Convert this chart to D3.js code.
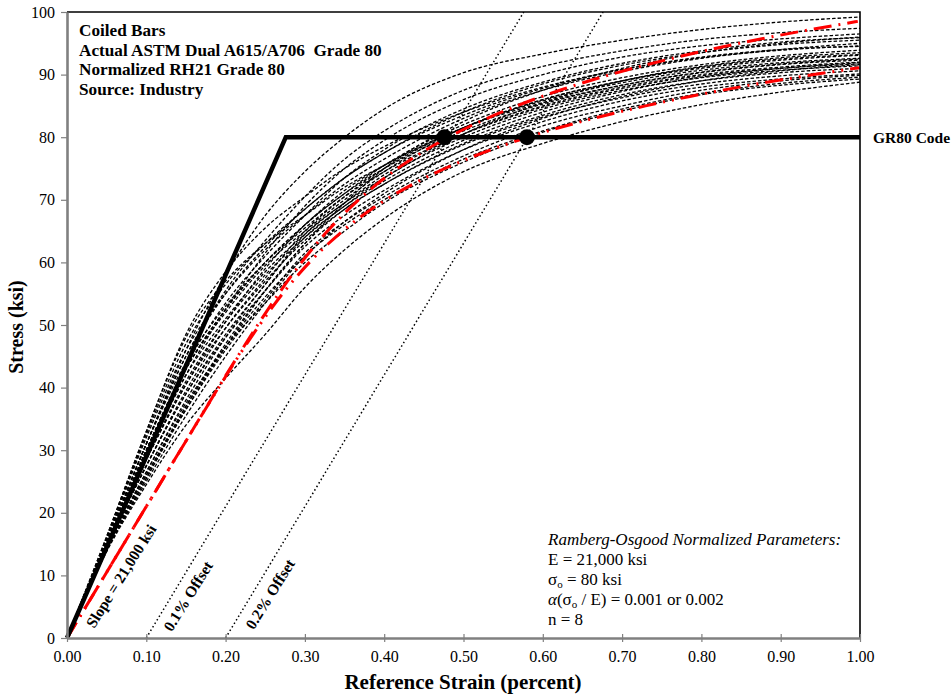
<!DOCTYPE html>
<html><head><meta charset="utf-8">
<script src="https://cdn.jsdelivr.net/npm/d3@7"></script>
<style>
body{margin:0;background:#fff}
svg{display:block}
svg text{font-family:"Liberation Serif","Times New Roman","DejaVu Serif",serif !important;fill:#000}
</style>
</head><body>
<svg id="chart" width="952" height="696"></svg>
<script>
// ---- data ----
const strainGrid = [0, 0.05, 0.10, 0.15, 0.20, 0.25, 0.30, 0.35, 0.40, 0.50, 0.60, 0.70, 0.80, 0.90, 1.00];
const testCurves = [
  [0, 15.5, 31.0, 46.0, 58.0, 67.5, 74.5, 80.0, 84.5, 90.3, 93.3, 95.5, 97.2, 98.4, 99.2],
  [0, 15.3, 31.0, 45.0, 55.5, 63.5, 70.5, 76.5, 81.0, 87.5, 91.3, 93.8, 95.6, 96.7, 97.4],
  [0, 14.8, 29.0, 42.0, 52.5, 61.5, 69.0, 75.0, 79.5, 86.0, 90.0, 92.8, 94.6, 95.7, 96.5],
  [0, 15.0, 30.0, 43.5, 53.5, 61.0, 67.5, 73.5, 78.0, 84.5, 88.8, 91.8, 93.8, 95.2, 95.9],
  [0, 15.8, 32.0, 46.0, 55.0, 62.0, 67.5, 72.5, 76.5, 83.0, 87.5, 90.5, 92.6, 94.0, 95.0],
  [0, 14.7, 28.5, 40.5, 50.5, 59.0, 66.0, 71.0, 75.5, 82.0, 86.5, 89.5, 91.6, 93.0, 93.9],
  [0, 15.0, 30.0, 43.0, 52.0, 59.5, 65.0, 70.0, 74.5, 81.5, 86.0, 89.0, 91.0, 92.3, 93.1],
  [0, 14.5, 27.5, 39.5, 49.5, 57.5, 65.0, 70.5, 75.0, 81.5, 85.8, 88.7, 90.7, 91.9, 92.6],
  [0, 15.0, 30.0, 43.0, 52.5, 60.0, 66.0, 71.5, 75.5, 81.5, 85.5, 88.3, 90.3, 91.6, 92.3],
  [0, 14.5, 27.5, 39.0, 48.5, 56.5, 64.5, 69.5, 74.0, 80.5, 85.0, 88.0, 90.0, 91.2, 92.0],
  [0, 15.4, 31.0, 44.0, 53.0, 60.0, 65.5, 70.5, 74.5, 80.5, 84.8, 87.8, 89.8, 91.0, 91.7],
  [0, 14.3, 26.5, 38.0, 48.0, 56.5, 64.0, 69.0, 73.5, 80.0, 84.5, 87.5, 89.5, 90.7, 91.4],
  [0, 14.8, 28.5, 40.5, 49.5, 57.0, 63.5, 68.5, 72.5, 79.0, 83.5, 86.8, 89.0, 90.3, 91.0],
  [0, 14.0, 25.5, 36.5, 46.5, 55.5, 63.0, 68.5, 72.5, 78.8, 83.2, 86.3, 88.5, 89.8, 90.6],
  [0, 14.5, 27.5, 39.0, 48.0, 55.5, 62.5, 67.5, 71.5, 78.0, 82.5, 85.8, 88.0, 89.3, 90.1],
  [0, 14.2, 26.0, 36.5, 46.0, 54.0, 61.5, 66.5, 70.5, 77.0, 81.8, 85.0, 87.5, 89.0, 89.9],
  [0, 14.0, 25.0, 35.5, 45.0, 53.5, 61.0, 66.0, 70.0, 76.5, 81.0, 84.5, 87.0, 88.6, 89.6],
  [0, 14.3, 26.5, 37.5, 46.5, 53.5, 60.0, 65.0, 69.5, 76.0, 80.8, 84.2, 86.8, 88.3, 89.3],
  [0, 13.8, 24.5, 34.0, 41.5, 48.5, 56.0, 62.0, 67.0, 74.5, 79.0, 82.5, 85.2, 87.2, 88.8],
  [0, 15.8, 32.5, 47.0, 56.5, 63.0, 68.5, 73.5, 77.5, 83.5, 87.8, 90.8, 92.8, 94.0, 94.5],
  [0, 14.0, 25.5, 37.0, 47.0, 55.5, 63.0, 69.5, 75.0, 82.5, 87.5, 91.0, 93.5, 95.0, 96.0],
  [0, 15.0, 29.5, 42.0, 51.0, 58.5, 64.5, 69.5, 73.5, 80.5, 85.5, 89.0, 91.3, 92.7, 93.5],
  [0, 16.2, 33.0, 48.0, 57.0, 63.0, 67.5, 72.0, 75.5, 81.5, 86.0, 89.0, 91.2, 92.5, 93.2],
  [0, 16.2, 33.0, 48.5, 58.5, 65.5, 70.5, 75.0, 78.5, 84.0, 88.0, 90.8, 92.7, 93.9, 94.6],
  [0, 14.8, 28.5, 41.0, 50.5, 58.0, 64.0, 69.0, 73.0, 79.5, 84.0, 87.3, 89.6, 91.0, 91.9],
  [0, 15.0, 30.0, 43.0, 52.5, 60.0, 66.0, 71.0, 75.0, 81.0, 85.3, 88.3, 90.4, 91.7, 92.5],
  [0, 14.3, 26.0, 37.0, 46.5, 54.5, 61.0, 66.5, 71.0, 78.0, 83.0, 86.5, 89.0, 90.6, 91.6],
  [0, 15.4, 31.0, 45.0, 55.0, 62.5, 68.5, 73.5, 77.5, 84.0, 88.5, 91.5, 93.5, 94.8, 95.5]
];
// Ramberg-Osgood normalized curves
const ro1Stress = [0, 10, 20, 30, 40, 45, 50, 55, 60, 65, 70, 72.5, 75, 77.5, 80, 82.5, 85, 87.5, 90, 92.5, 95, 98.5];
const ro1Strain = [0, 0.0476, 0.0952, 0.1429, 0.1909, 0.2153, 0.2404, 0.2669, 0.2957, 0.3285, 0.3677, 0.3907, 0.4168, 0.4466, 0.4810, 0.5208, 0.5672, 0.6215, 0.6852, 0.7600, 0.8478, 0.9972];
const ro2Stress = [0, 10, 20, 30, 40, 45, 50, 55, 60, 65, 70, 72.5, 75, 77.5, 80, 82.5, 85, 86.5, 88, 90, 91.1];
const ro2Strain = [0, 0.0476, 0.0952, 0.1430, 0.1913, 0.2163, 0.2428, 0.2719, 0.3057, 0.3475, 0.4020, 0.4362, 0.4764, 0.5241, 0.5810, 0.6487, 0.7296, 0.7855, 0.8477, 0.9418, 0.9993];
const codeStrain = [0, 0.2759, 1.00];
const codeStress = [0, 80, 80];
const offset1Strain = [0.10, 0.576];
const offset2Strain = [0.20, 0.676];
const offsetStress = [0, 100];
const yieldStrain = [0.476, 0.58];
const yieldStress = [80, 80];
const xTicks = [0, 0.1, 0.2, 0.3, 0.4, 0.5, 0.6, 0.7, 0.8, 0.9, 1.0];
const yTicks = [0, 10, 20, 30, 40, 50, 60, 70, 80, 90, 100];
const headerLines = ["Coiled Bars", "Actual ASTM Dual A615/A706  Grade 80", "Normalized RH21 Grade 80", "Source: Industry"];

// ---- layout ----
const L = 67, T = 12, R = 860, B = 638;
const FONT = "'Liberation Serif','Times New Roman','DejaVu Serif',serif";
const svg = d3.select("#chart");
const x = d3.scaleLinear().domain([0, 1]).range([L, R]);
const y = d3.scaleLinear().domain([0, 100]).range([B, T]);

svg.append("defs").append("clipPath").attr("id", "clip")
  .append("rect").attr("x", L).attr("y", T).attr("width", R - L).attr("height", B - T);
const plot = svg.append("g").attr("clip-path", "url(#clip)");

const line = d3.line().x(d => x(d[0])).y(d => y(d[1])).curve(d3.curveMonotoneX);
const straight = d3.line().x(d => x(d[0])).y(d => y(d[1]));

// test curves
testCurves.forEach(c => {
  plot.append("path").datum(strainGrid.map((s, i) => [s, c[i]]))
    .attr("d", line).attr("fill", "none").attr("stroke", "#000")
    .attr("stroke-width", 1.3).attr("stroke-dasharray", "3.5,2");
});

// offset lines
[offset1Strain, offset2Strain].forEach(os => {
  plot.append("path").datum(os.map((s, i) => [s, offsetStress[i]]))
    .attr("d", straight).attr("fill", "none").attr("stroke", "#000")
    .attr("stroke-width", 1.5).attr("stroke-dasharray", "1.5,2.6");
});

// red RO curves
plot.append("path").datum(ro1Strain.map((s, i) => [s, ro1Stress[i]]))
  .attr("d", line).attr("fill", "none").attr("stroke", "#ff0000")
  .attr("stroke-width", 3).attr("stroke-dasharray", "18,7,2,7");
plot.append("path").datum(ro2Strain.map((s, i) => [s, ro2Stress[i]]))
  .attr("d", line).attr("fill", "none").attr("stroke", "#ff0000")
  .attr("stroke-width", 3).attr("stroke-dasharray", "18,7,2,7,2,7");

// code line
svg.append("path").datum(codeStrain.map((s, i) => [s, codeStress[i]]))
  .attr("d", straight).attr("fill", "none").attr("stroke", "#000")
  .attr("stroke-width", 4.5).attr("stroke-linejoin", "miter");

// yield dots
svg.selectAll(".dot").data(yieldStrain.map((s, i) => [s, yieldStress[i]])).enter()
  .append("circle").attr("cx", d => x(d[0])).attr("cy", d => y(d[1])).attr("r", 8).attr("fill", "#000");

// frame: top & right black
svg.append("path").attr("d", `M${L},${T}H${R}V${B}`).attr("fill", "none").attr("stroke", "#000").attr("stroke-width", 1.6);

// axes
const gx = svg.append("g").attr("transform", `translate(0,${B})`)
  .call(d3.axisBottom(x).tickValues(xTicks).tickFormat(d3.format(".2f")).tickSizeInner(4).tickSizeOuter(0).tickPadding(9));
gx.attr("font-family", FONT).attr("font-size", 16);
gx.selectAll(".tick line").attr("y1", -4).attr("y2", 4).attr("stroke", "#808080").attr("stroke-width", 1.2);
gx.select(".domain").attr("stroke", "#808080").attr("stroke-width", 2.6);
gx.selectAll("text").style("font-family", FONT).style("font-size", "16px").attr("fill", "#000");

const gy = svg.append("g").attr("transform", `translate(${L},0)`)
  .call(d3.axisLeft(y).tickValues(yTicks).tickFormat(d3.format("d")).tickSizeInner(6).tickSizeOuter(0).tickPadding(6));
gy.attr("font-family", FONT).attr("font-size", 16);
gy.selectAll(".tick line").attr("stroke", "#808080").attr("stroke-width", 1.2);
gy.select(".domain").attr("stroke", "#808080").attr("stroke-width", 2.6);
gy.selectAll("text").style("font-family", FONT).style("font-size", "16px").attr("fill", "#000");

function txt(sel) { return sel.style("font-family", FONT); }

// axis titles
txt(svg.append("text")).attr("x", 463).attr("y", 689).attr("text-anchor", "middle")
  .style("font-size", "21px").attr("font-weight", "bold").text("Reference Strain (percent)");
txt(svg.append("text")).attr("transform", `translate(23,${(T + B) / 2 + 2}) rotate(-90)`).attr("text-anchor", "middle")
  .style("font-size", "20px").attr("font-weight", "bold").text("Stress (ksi)");

// header
headerLines.forEach((t, i) => {
  txt(svg.append("text")).attr("x", 79).attr("y", 36 + i * 19.5).style("font-size", "17.2px")
    .attr("font-weight", "bold").style("white-space", "pre").text(t);
});

// GR80 Code
txt(svg.append("text")).attr("x", 873).attr("y", y(80)).attr("dy", "0.35em").style("font-size", "15.5px")
  .attr("font-weight", "bold").text("GR80 Code");

// rotated labels
const rot = [["Slope = 21,000 ksi", 121, 576], ["0.1% Offset", 188, 596], ["0.2% Offset", 270, 594]];
rot.forEach(r => {
  txt(svg.append("text")).attr("transform", `translate(${r[1]},${r[2]}) rotate(-58)`)
    .attr("text-anchor", "middle").attr("dy", "0.35em").style("font-size", "15.5px").attr("font-weight", "bold").text(r[0]);
});

// RO parameter box
const px = 548, fs = "17px";
txt(svg.append("text")).attr("x", px).attr("y", 545).style("font-size", fs).attr("font-style", "italic")
  .text("Ramberg-Osgood Normalized Parameters:");
txt(svg.append("text")).attr("x", px).attr("y", 565).style("font-size", fs).text("E = 21,000 ksi");
const t3 = txt(svg.append("text")).attr("x", px).attr("y", 585).style("font-size", fs);
t3.append("tspan").text("σ");
t3.append("tspan").style("font-size", "11px").attr("dy", 3).text("o");
t3.append("tspan").attr("dy", -3).text(" = 80 ksi");
const t4 = txt(svg.append("text")).attr("x", px).attr("y", 605).style("font-size", fs);
t4.append("tspan").attr("font-style", "italic").text("α");
t4.append("tspan").text("(σ");
t4.append("tspan").style("font-size", "11px").attr("dy", 3).text("o");
t4.append("tspan").attr("dy", -3).text(" / E) = 0.001 or 0.002");
txt(svg.append("text")).attr("x", px).attr("y", 625).style("font-size", fs).text("n = 8");
</script>
</body></html>
